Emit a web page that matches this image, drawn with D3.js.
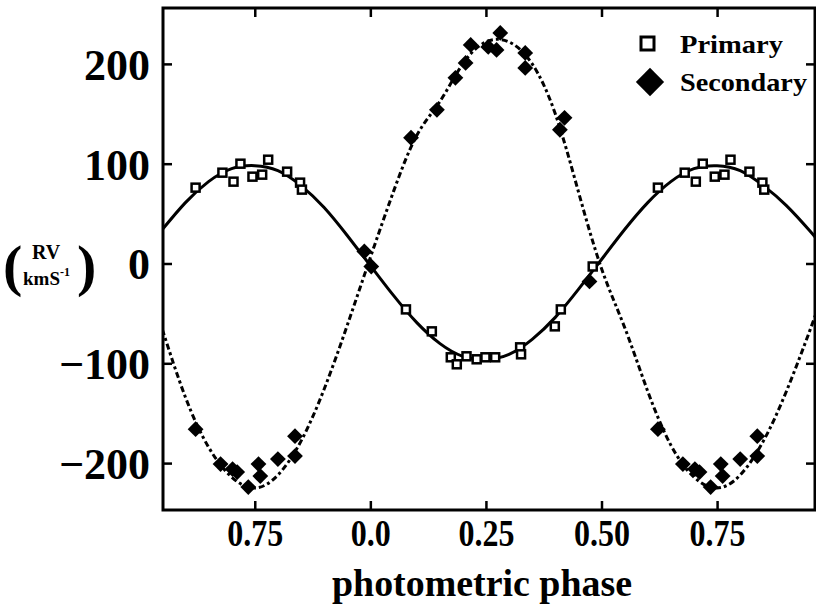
<!DOCTYPE html>
<html>
<head>
<meta charset="utf-8">
<script src="https://cdn.jsdelivr.net/npm/d3@7"></script>
<style>
  body { margin: 0; background: #fff; }
  svg { display: block; }
  text { font-family: "Liberation Serif", "Times New Roman", serif; font-weight: bold; fill: #000; }
</style>
</head>
<body>
<div id="app"></div>
<script>
// axis ticks
const phaseTicks = [-0.25, 0, 0.25, 0.5, 0.75];
const phaseTickLabels = ["0.75", "0.0", "0.25", "0.50", "0.75"];
const rvTicks = [-200, -100, 0, 100, 200];

// observed points, one cycle (phase, km/s)
const primaryPhase = [0.077, 0.133, 0.174, 0.187, 0.208, 0.230, 0.249, 0.270, 0.324, 0.326,
  0.399, 0.412, 0.481, 0.622, 0.680, 0.704, 0.719, 0.745, 0.766, 0.779, 0.820, 0.848, 0.852];
const primaryRV = [-46, -68, -94, -101, -93, -96, -94, -94, -84, -91,
  -63, -46, -3, 76, 91, 82, 100, 87, 89, 104, 92, 81, 74];

const secondaryPhase = [-0.013, 0.002, 0.088, 0.144, 0.184, 0.206, 0.217, 0.255, 0.273, 0.281,
  0.335, 0.335, 0.410, 0.420, 0.474, 0.622, 0.676, 0.702, 0.712, 0.736, 0.758, 0.762, 0.800, 0.837, 0.837];
const secondaryRV = [12, -3, 126, 154, 186, 201, 219, 217, 214, 231,
  211, 196, 134, 146, -18, -166, -201, -206, -209, -224, -201, -213, -196, -173, -193];

// fitted curves
const fitPhase = [-0.45, -0.40, -0.35, -0.30, -0.25, -0.20, -0.15, -0.10, -0.05, 0.00,
  0.05, 0.10, 0.15, 0.20, 0.25, 0.30, 0.35, 0.40, 0.45, 0.50,
  0.55, 0.60, 0.65, 0.70, 0.75, 0.80, 0.85, 0.90, 0.95, 0.97];
const primaryFit = [34, 61, 82, 95, 98, 93, 78, 56, 28, -2,
  -32, -59, -80, -93, -96, -91, -76, -54, -26, 4,
  34, 61, 82, 95, 98, 93, 78, 58, 33, 22];
const secondaryFit = [-66, -134, -184, -214, -225, -212, -178, -126, -62, 6,
  72, 128, 162, 200, 222, 222, 200, 150, 72, -5,
  -64, -128, -182, -214, -225, -212, -178, -128, -68, -42];

const W = 816, H = 607;
const plot = { left: 163, right: 815, top: 8, bottom: 510 };

const svg = d3.select("#app").append("svg")
  .attr("width", W)
  .attr("height", H);

const x = d3.scaleLinear().domain([-0.4485, 0.9618]).range([plot.left, plot.right]);
const y = d3.scaleLinear().domain([-247, 256]).range([plot.bottom, plot.top]);

svg.append("clipPath").attr("id", "frame")
  .append("rect")
  .attr("x", plot.left).attr("y", plot.top)
  .attr("width", plot.right - plot.left).attr("height", plot.bottom - plot.top);

// curves
const line = d3.line()
  .x(d => x(d[0]))
  .y(d => y(d[1]))
  .curve(d3.curveNatural);

const curves = svg.append("g").attr("clip-path", "url(#frame)");

curves.append("path")
  .datum(fitPhase.map((p, i) => [p, primaryFit[i]]))
  .attr("d", line)
  .attr("fill", "none")
  .attr("stroke", "#000")
  .attr("stroke-width", 3);

curves.append("path")
  .datum(fitPhase.map((p, i) => [p, secondaryFit[i]]))
  .attr("d", line)
  .attr("fill", "none")
  .attr("stroke", "#000")
  .attr("stroke-width", 3)
  .attr("stroke-dasharray", "6,3,3,3");

// points are repeated one cycle either side when they fall in the window
function wrap(phases, rvs) {
  const [lo, hi] = x.domain();
  const out = [];
  phases.forEach((p, i) => {
    [-1, 0, 1].forEach(k => {
      const q = p + k;
      if (q >= lo && q <= hi) out.push([q, rvs[i]]);
    });
  });
  return out;
}

const marks = svg.append("g");

marks.selectAll("path.sec")
  .data(wrap(secondaryPhase, secondaryRV))
  .join("path")
  .attr("class", "sec")
  .attr("d", d3.symbol(d3.symbolSquare, 125))
  .attr("transform", d => `translate(${x(d[0])},${y(d[1])}) rotate(45)`)
  .attr("fill", "#000");

marks.selectAll("rect.pri")
  .data(wrap(primaryPhase, primaryRV))
  .join("rect")
  .attr("class", "pri")
  .attr("x", d => x(d[0]) - 4)
  .attr("y", d => y(d[1]) - 4)
  .attr("width", 8)
  .attr("height", 8)
  .attr("fill", "#fff")
  .attr("stroke", "#000")
  .attr("stroke-width", 2.5);

// axes, ticks pointing inward
const xAxisBottom = svg.append("g")
  .attr("transform", `translate(0,${plot.bottom})`)
  .call(d3.axisBottom(x).tickValues(phaseTicks).tickSize(-9).tickPadding(10)
    .tickFormat((d, i) => phaseTickLabels[i]));
xAxisBottom.selectAll("text")
  .attr("font-size", 37)
  .attr("dy", "0.71em")
  .attr("textLength", d => phaseTickLabels[phaseTicks.indexOf(d)].length === 3 ? 40 : 56)
  .attr("lengthAdjust", "spacingAndGlyphs");

svg.append("g")
  .attr("transform", `translate(0,${plot.top})`)
  .call(d3.axisTop(x).tickValues(phaseTicks).tickSize(-9).tickFormat(""));

svg.append("g")
  .attr("transform", `translate(${plot.left},0)`)
  .call(d3.axisLeft(y).tickValues(rvTicks).tickSize(-9).tickPadding(13))
  .selectAll("text")
  .attr("font-size", 44)
  .attr("dy", "0.35em");

svg.append("g")
  .attr("transform", `translate(${plot.right},0)`)
  .call(d3.axisRight(y).tickValues(rvTicks).tickSize(-9).tickFormat(""));

svg.selectAll(".domain").remove();
svg.selectAll(".tick line").attr("stroke", "#000").attr("stroke-width", 2.5);
svg.selectAll(".tick text").attr("font-family", null).attr("fill", "#000");

// frame
svg.append("rect")
  .attr("x", plot.left).attr("y", plot.top)
  .attr("width", plot.right - plot.left).attr("height", plot.bottom - plot.top)
  .attr("fill", "none")
  .attr("stroke", "#000")
  .attr("stroke-width", 3);

// x title
svg.append("text")
  .attr("x", 482).attr("y", 596)
  .attr("text-anchor", "middle")
  .attr("font-size", 38)
  .attr("textLength", 300)
  .attr("lengthAdjust", "spacingAndGlyphs")
  .text("photometric phase");

// y title: (RV / kmS-1)
const yt = svg.append("g");
yt.append("text").attr("x", 3).attr("y", 285).attr("font-size", 58).text("(");
yt.append("text").attr("x", 46).attr("y", 259).attr("text-anchor", "middle").attr("font-size", 20).text("RV");
const km = yt.append("text").attr("x", 23).attr("y", 285).attr("font-size", 19);
km.append("tspan").text("kmS");
km.append("tspan").attr("dy", -9).attr("font-size", 12).text("-1");
yt.append("text").attr("x", 77).attr("y", 285).attr("font-size", 58).text(")");

// legend
const leg = svg.append("g");
leg.append("rect")
  .attr("x", 641).attr("y", 37).attr("width", 13).attr("height", 13)
  .attr("fill", "#fff").attr("stroke", "#000").attr("stroke-width", 3);
leg.append("text")
  .attr("x", 680).attr("y", 53).attr("font-size", 26)
  .attr("textLength", 103).attr("lengthAdjust", "spacingAndGlyphs")
  .text("Primary");
leg.append("path")
  .attr("d", d3.symbol(d3.symbolSquare, 400))
  .attr("transform", "translate(650,82) rotate(45)")
  .attr("fill", "#000");
leg.append("text")
  .attr("x", 680).attr("y", 91).attr("font-size", 26)
  .attr("textLength", 127).attr("lengthAdjust", "spacingAndGlyphs")
  .text("Secondary");
</script>
</body>
</html>
